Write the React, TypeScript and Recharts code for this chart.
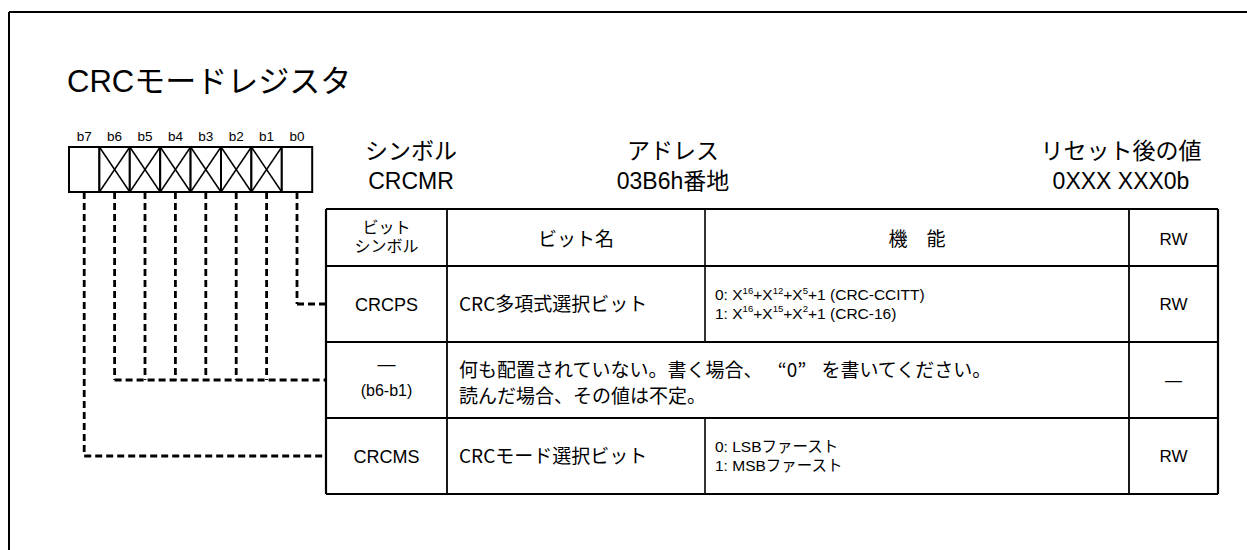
import React from "react";
import { ScatterChart, Scatter, XAxis, YAxis, ReferenceLine, ReferenceArea } from "recharts";

// ---- content ----
const title = "CRCモードレジスタ";
const bitLabels = ["b7", "b6", "b5", "b4", "b3", "b2", "b1", "b0"];
const reservedBits = ["b6", "b5", "b4", "b3", "b2", "b1"];
const infoHeads = ["シンボル", "アドレス", "リセット後の値"];
const infoValues = ["CRCMR", "03B6h番地", "0XXX XXX0b"];
const colHeads = [["ビット", "シンボル"], ["ビット名"], ["機　能"], ["RW"]];
const rowSymbols = [["CRCPS"], ["—", "(b6-b1)"], ["CRCMS"]];
const rowNames = ["CRC多項式選択ビット", null, "CRCモード選択ビット"];
const rowFunctions = [
  ["0: X^16+X^12+X^5+1 (CRC-CCITT)", "1: X^16+X^15+X^2+1 (CRC-16)"],
  ["何も配置されていない。書く場合、“0”を書いてください。", "読んだ場合、その値は不定。"],
  ["0: LSBファースト", "1: MSBファースト"],
];
const rowRW = ["RW", "—", "RW"];
const rowBits = [["b0"], ["b6", "b5", "b4", "b3", "b2", "b1"], ["b7"]];

// ---- layout ----
const W = 1247;
const H = 550;
const FONT = '"Liberation Sans", Arial, "Noto Sans CJK JP", sans-serif';
const CJK = '"Noto Sans CJK JP", "Liberation Sans", sans-serif';
const boxX = 69;
const cellW = 30.4;
const boxTop = 147;
const boxBottom = 192;
const cols = [326, 447, 705, 1129, 1218];
const rows = [209, 266, 342, 418, 494];
const infoX = [411, 673, 1121];

const bitX = (b: string) => boxX + cellW * (bitLabels.indexOf(b) + 0.5);
const mid = (a: number, b: number) => (a + b) / 2;

type Mark = { x: number; y: number; lines: string[]; size: number; anchor: string; gap?: number; font?: string };

const marks: Mark[] = [];
marks.push({ x: 67, y: 92, lines: [title], size: 31, anchor: "start" });
bitLabels.forEach((b) => marks.push({ x: bitX(b), y: 141, lines: [b], size: 13.5, anchor: "middle" }));
infoHeads.forEach((t, i) => marks.push({ x: infoX[i], y: 159, lines: [t, infoValues[i]], gap: 30, size: 23, anchor: "middle" }));

// header row
marks.push({ x: mid(cols[0], cols[1]), y: 233, lines: colHeads[0], gap: 19, size: 16, anchor: "middle" });
marks.push({ x: mid(cols[1], cols[2]), y: 246, lines: colHeads[1], size: 19, anchor: "middle" });
marks.push({ x: mid(cols[2], cols[3]), y: 246, lines: colHeads[2], size: 19, anchor: "middle" });
marks.push({ x: mid(cols[3], cols[4]), y: 245, lines: colHeads[3], size: 17, anchor: "middle" });

// body rows
rowSymbols.forEach((sym, r) => {
  const cy = mid(rows[r + 1], rows[r + 2]);
  if (sym.length === 1) {
    marks.push({ x: mid(cols[0], cols[1]), y: cy + 7, lines: sym, size: 18, anchor: "middle" });
  } else {
    marks.push({ x: mid(cols[0], cols[1]), y: cy - 10, lines: [sym[0]], size: 18, anchor: "middle" });
    marks.push({ x: mid(cols[0], cols[1]), y: cy + 16, lines: [sym[1]], size: 16, anchor: "middle" });
  }
  const name = rowNames[r];
  if (name) marks.push({ x: cols[1] + 12, y: cy + 7, lines: [name], size: 19, anchor: "start", font: CJK });
  marks.push(
    name
      ? { x: cols[2] + 10, y: cy - 4, lines: rowFunctions[r], gap: 18.5, size: 15.5, anchor: "start" }
      : { x: cols[1] + 12, y: cy - 3, lines: rowFunctions[r], gap: 26, size: 19, anchor: "start", font: CJK }
  );
  marks.push({ x: mid(cols[3], cols[4]), y: cy + 6, lines: [rowRW[r]], size: 17, anchor: "middle" });
});

// ---- line segments ----
type Seg = { x1: number; y1: number; x2: number; y2: number; w: number; dash?: string };
const segs: Seg[] = [];
// outer frame
segs.push({ x1: 9, y1: 12, x2: W, y2: 12, w: 2 });
segs.push({ x1: 9, y1: 12, x2: 9, y2: H, w: 2 });
// crosses in reserved cells
reservedBits.forEach((b) => {
  const x0 = bitX(b) - cellW / 2;
  segs.push({ x1: x0, y1: boxTop, x2: x0 + cellW, y2: boxBottom, w: 1.5 });
  segs.push({ x1: x0 + cellW, y1: boxTop, x2: x0, y2: boxBottom, w: 1.5 });
});
// table grid
rows.forEach((y, i) => segs.push({ x1: cols[0], y1: y, x2: cols[4], y2: y, w: i === 0 || i === rows.length - 1 ? 2.2 : 2 }));
cols.forEach((x, i) => {
  if (i === 2) {
    segs.push({ x1: x, y1: rows[0], x2: x, y2: rows[2], w: 1.6 });
    segs.push({ x1: x, y1: rows[3], x2: x, y2: rows[4], w: 1.6 });
  } else {
    segs.push({ x1: x, y1: rows[0], x2: x, y2: rows[4], w: i === 0 || i === 4 ? 2.2 : 1.8 });
  }
});
// dashed leaders
rowBits.forEach((bits, r) => {
  const cy = mid(rows[r + 1], rows[r + 2]);
  bits.forEach((b) => segs.push({ x1: bitX(b), y1: boxBottom, x2: bitX(b), y2: cy, w: 2.8, dash: "7 4" }));
  const left = Math.min(...bits.map(bitX));
  segs.push({ x1: left, y1: cy, x2: cols[0], y2: cy, w: 2.8, dash: "7 4" });
});

// renders one text mark; "^n" becomes a superscript, CJK quotes get full-width spacing
const TextMark = (props: any) => {
  const { cx, cy, payload } = props;
  const s = payload.size;
  const shift = s * 0.4;
  const out: React.ReactNode[] = [];
  payload.lines.forEach((line: string, k: number) => {
    const parts = line.split(/\^(\d+)/);
    let first = true;
    parts.forEach((p, i) => {
      if (i % 2 === 1) {
        out.push(<tspan key={`${k}s${i}`} fontSize={s * 0.62} dy={-shift}>{p}</tspan>);
        return;
      }
      const pieces = p.split(/(“|”)/).filter((q) => q !== "");
      pieces.forEach((q, j) => {
        let dy: number | undefined;
        let x: number | undefined;
        if (first) {
          x = cx;
          dy = k > 0 ? payload.gap : 0;
          first = false;
        } else if (j === 0 && i > 0) {
          dy = shift;
        }
        const prevClose = j > 0 && pieces[j - 1] === "”";
        const dx = q === "“" || prevClose ? s * 0.8 : undefined;
        out.push(<tspan key={`${k}n${i}-${j}`} x={x} dy={dy} dx={dx}>{q}</tspan>);
      });
    });
  });
  return (
    <text x={cx} y={cy} fontSize={s} textAnchor={payload.anchor} fontFamily={payload.font || FONT} fill="#000">
      {out}
    </text>
  );
};

export default function App() {
  return (
    <div style={{ position: "absolute", left: 0, top: 0, background: "#fff" }}>
      <ScatterChart width={W} height={H} margin={{ top: 0, right: 0, bottom: 0, left: 0 }}>
        <XAxis type="number" dataKey="x" domain={[0, W]} hide allowDataOverflow />
        <YAxis type="number" dataKey="y" domain={[0, H]} reversed hide allowDataOverflow />
        {bitLabels.map((b) => (
          <ReferenceArea
            key={b}
            x1={bitX(b) - cellW / 2}
            x2={bitX(b) + cellW / 2}
            y1={boxTop}
            y2={boxBottom}
            fill="#fff"
            fillOpacity={1}
            stroke="#000"
            strokeWidth={2}
            ifOverflow="visible"
          />
        ))}
        {segs.map((s, i) => (
          <ReferenceLine
            key={i}
            segment={[{ x: s.x1, y: s.y1 }, { x: s.x2, y: s.y2 }]}
            stroke="#000"
            strokeWidth={s.w}
            strokeDasharray={s.dash}
            ifOverflow="visible"
          />
        ))}
        <Scatter data={marks} shape={TextMark} isAnimationActive={false} />
      </ScatterChart>
    </div>
  );
}
